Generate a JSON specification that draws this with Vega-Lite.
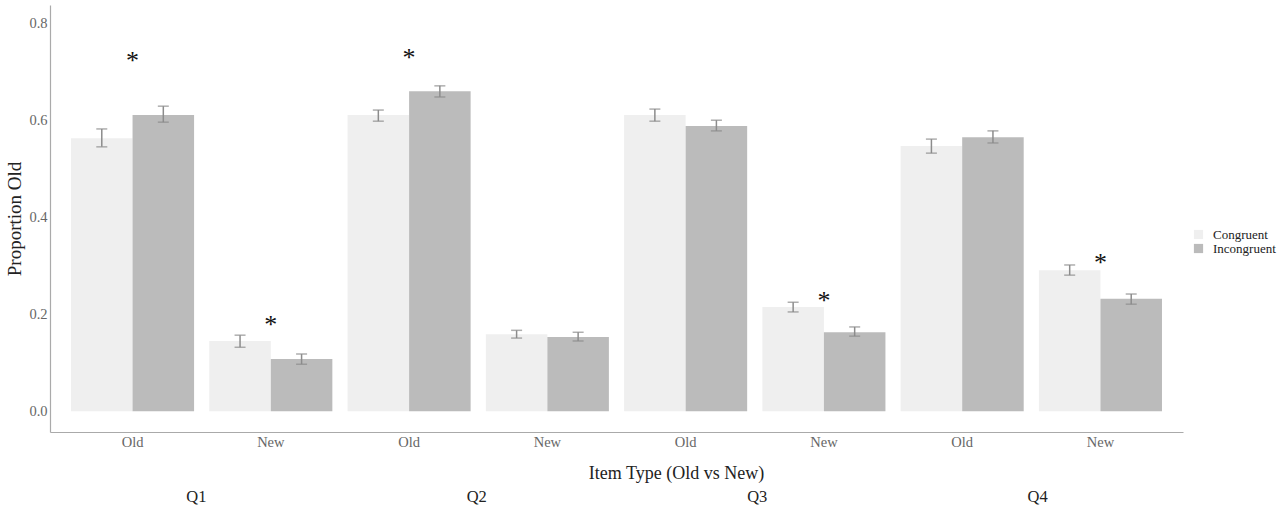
{
  "$schema": "https://vega.github.io/schema/vega-lite/v6.json",
  "autosize": "none",
  "width": 1133,
  "height": 427,
  "padding": {"left": 50, "top": 5, "right": 100, "bottom": 79},
  "background": "white",
  "config": {"view": {"stroke": null}, "font": "Liberation Serif"},
  "datasets": {
    "bars": [
      {"key": "Q1 Old", "cond": "Congruent", "value": 0.564, "lo": 0.546, "hi": 0.583},
      {"key": "Q1 Old", "cond": "Incongruent", "value": 0.612, "lo": 0.597, "hi": 0.630},
      {"key": "Q1 New", "cond": "Congruent", "value": 0.145, "lo": 0.132, "hi": 0.157},
      {"key": "Q1 New", "cond": "Incongruent", "value": 0.108, "lo": 0.097, "hi": 0.118},
      {"key": "Q2 Old", "cond": "Congruent", "value": 0.612, "lo": 0.599, "hi": 0.622},
      {"key": "Q2 Old", "cond": "Incongruent", "value": 0.661, "lo": 0.649, "hi": 0.672},
      {"key": "Q2 New", "cond": "Congruent", "value": 0.159, "lo": 0.151, "hi": 0.167},
      {"key": "Q2 New", "cond": "Incongruent", "value": 0.153, "lo": 0.145, "hi": 0.163},
      {"key": "Q3 Old", "cond": "Congruent", "value": 0.612, "lo": 0.599, "hi": 0.624},
      {"key": "Q3 Old", "cond": "Incongruent", "value": 0.589, "lo": 0.579, "hi": 0.601},
      {"key": "Q3 New", "cond": "Congruent", "value": 0.215, "lo": 0.205, "hi": 0.225},
      {"key": "Q3 New", "cond": "Incongruent", "value": 0.163, "lo": 0.155, "hi": 0.174},
      {"key": "Q4 Old", "cond": "Congruent", "value": 0.548, "lo": 0.533, "hi": 0.562},
      {"key": "Q4 Old", "cond": "Incongruent", "value": 0.566, "lo": 0.554, "hi": 0.579},
      {"key": "Q4 New", "cond": "Congruent", "value": 0.291, "lo": 0.281, "hi": 0.302},
      {"key": "Q4 New", "cond": "Incongruent", "value": 0.232, "lo": 0.221, "hi": 0.242}
    ],
    "stars": [
      {"key": "Q1 Old", "value": 0.736},
      {"key": "Q1 New", "value": 0.190},
      {"key": "Q2 Old", "value": 0.742},
      {"key": "Q3 New", "value": 0.240},
      {"key": "Q4 New", "value": 0.318}
    ],
    "panels": [{"q": "Q1"}, {"q": "Q2"}, {"q": "Q3"}, {"q": "Q4"}]
  },
  "layer": [
    {
      "data": {"name": "bars"},
      "encoding": {
        "x": {
          "field": "key",
          "type": "nominal",
          "sort": ["Q1 Old", "Q1 New", "Q2 Old", "Q2 New", "Q3 Old", "Q3 New", "Q4 Old", "Q4 New"],
          "scale": {
            "domain": ["Q1 Old", "Q1 New", "Q2 Old", "Q2 New", "Q3 Old", "Q3 New", "Q4 Old", "Q4 New"],
            "paddingInner": 0.11,
            "paddingOuter": 0.152
          },
          "axis": {
            "title": "Item Type (Old vs New)",
            "labelExpr": "split(datum.label, ' ')[1]",
            "labelAngle": 0,
            "ticks": false,
            "labelPadding": 3,
            "labelFontSize": 14.5,
            "labelColor": "#666666",
            "domainColor": "#aaaaaa",
            "domainWidth": 1.2,
            "titleFontSize": 18,
            "titleFontWeight": "normal",
            "titleColor": "#222222",
            "titleX": 626,
            "titleY": 41,
            "titleBaseline": "middle"
          }
        }
      },
      "layer": [
        {
          "mark": {"type": "bar"},
          "encoding": {
            "xOffset": {"field": "cond", "type": "nominal", "scale": {"paddingInner": 0, "paddingOuter": 0}},
            "y": {
              "field": "value",
              "type": "quantitative",
              "title": "Proportion Old",
              "scale": {"domain": [-0.043, 0.839], "nice": false, "zero": false},
              "axis": {
                "values": [0, 0.2, 0.4, 0.6, 0.8],
                "format": ".1f",
                "ticks": false,
                "grid": false,
                "labelPadding": 3,
                "domainColor": "#aaaaaa",
                "domainWidth": 1.2,
                "labelColor": "#666666",
                "labelFontSize": 14.5,
                "titleFontSize": 19,
                "titleFontWeight": "normal",
                "titleColor": "#222222",
                "titlePadding": 4
              }
            },
            "color": {
              "field": "cond",
              "type": "nominal",
              "scale": {"domain": ["Congruent", "Incongruent"], "range": ["#efefef", "#bbbbbb"]},
              "legend": {
                "orient": "none",
                "legendX": 1142,
                "legendY": 223,
                "title": null,
                "symbolType": "square",
                "symbolSize": 85,
                "symbolStrokeWidth": 0,
                "labelFontSize": 13,
                "labelColor": "#222222",
                "rowPadding": 0,
                "labelOffset": 8
              }
            }
          }
        },
        {
          "mark": {"type": "rule", "color": "#8c8c8c", "strokeWidth": 1.5},
          "encoding": {
            "xOffset": {"field": "cond", "type": "nominal"},
            "y": {"field": "lo", "type": "quantitative", "title": "Proportion Old"},
            "y2": {"field": "hi"}
          }
        },
        {
          "mark": {"type": "tick", "color": "#8c8c8c", "thickness": 1.5, "size": 11},
          "encoding": {
            "xOffset": {"field": "cond", "type": "nominal"},
            "y": {"field": "lo", "type": "quantitative", "title": "Proportion Old"}
          }
        },
        {
          "mark": {"type": "tick", "color": "#8c8c8c", "thickness": 1.5, "size": 11},
          "encoding": {
            "xOffset": {"field": "cond", "type": "nominal"},
            "y": {"field": "hi", "type": "quantitative", "title": "Proportion Old"}
          }
        },
        {
          "data": {"name": "stars"},
          "mark": {"type": "text", "text": "*", "fontSize": 26, "dy": 6, "color": "#111111", "font": "Liberation Serif"},
          "encoding": {
            "y": {"field": "value", "type": "quantitative", "title": "Proportion Old"}
          }
        }
      ]
    },
    {
      "data": {"name": "panels"},
      "mark": {"type": "text", "text": ""},
      "encoding": {
        "x": {
          "field": "q",
          "type": "nominal",
          "scale": {"type": "point", "padding": 0.52},
          "axis": {
            "orient": "bottom",
            "offset": 50,
            "domain": false,
            "ticks": false,
            "labelPadding": 6,
            "labelFontSize": 16.5,
            "labelColor": "#222222",
            "labelAngle": 0,
            "title": null
          }
        }
      }
    }
  ],
  "resolve": {"scale": {"x": "independent"}, "axis": {"x": "independent"}}
}
